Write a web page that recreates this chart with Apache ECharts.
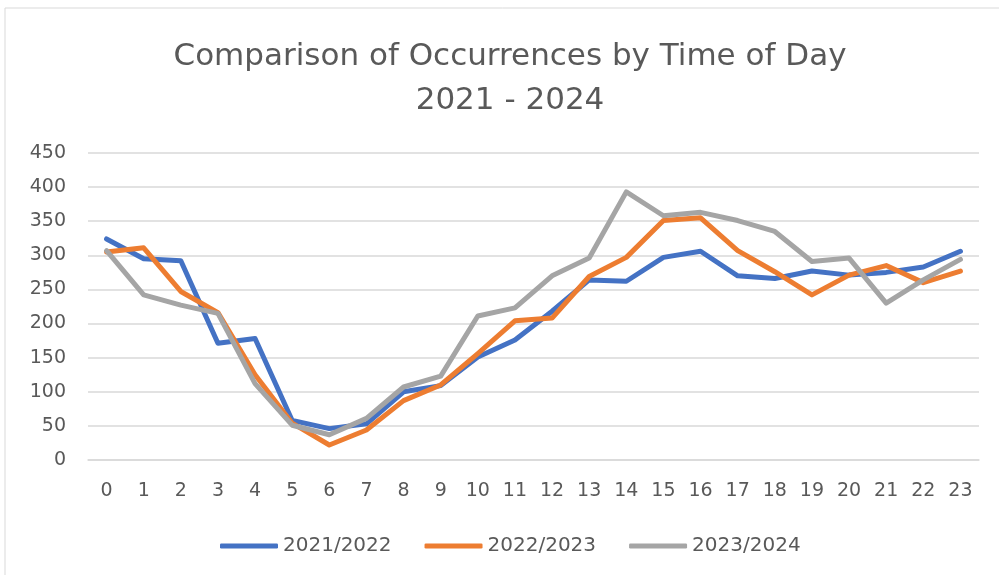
<!DOCTYPE html>
<html>
<head>
<meta charset="utf-8">
<script src="https://cdn.jsdelivr.net/npm/echarts@6/dist/echarts.min.js"></script>
<style>html,body{margin:0;padding:0;background:#fff;}#c{width:999px;height:575px;}</style>
</head>
<body>
<div id="c"></div>
<script>
const hours = ['0','1','2','3','4','5','6','7','8','9','10','11','12','13','14','15','16','17','18','19','20','21','22','23'];
const s2122 = [324,295,292,171,178,58,46,53,100,109,151,176,218,264,262,297,306,270,266,277,271,275,283,306];
const s2223 = [305,311,247,216,125,54,22,44,87,110,156,204,208,269,297,351,355,307,276,242,271,285,260,277];
const s2324 = [307,242,227,215,112,51,37,61,107,123,211,223,270,296,393,358,363,351,335,291,296,230,264,294];
const seriesNames = ['2021/2022','2022/2023','2023/2024'];
const yTicks = {min:0, max:450, interval:50};

const labelColor = '#595959';
const font = 'DejaVu Sans';
const chart = echarts.init(document.getElementById('c'));
function mk(name, data, color){
  return {name, type:'line', data, symbol:'none', smooth:false,
    lineStyle:{width:5, color, cap:'round', join:'round'}, itemStyle:{color}};
}
chart.setOption({
  animation:false,
  backgroundColor:'#fff',
  graphic:[{type:'rect', shape:{x:5, y:8, width:1100, height:700}, style:{fill:'none', stroke:'#D9D9D9', lineWidth:1}, silent:true}],
  title:{text:'Comparison of Occurrences by Time of Day\n2021 - 2024', left:505, textAlign:'center', top:30,
    textStyle:{fontFamily:font, fontSize:31, fontWeight:'normal', color:labelColor, lineHeight:44}},
  legend:{bottom:14, left:215, icon:'roundRect', itemWidth:58, itemHeight:5, itemGap:33,
    textStyle:{fontFamily:font, fontSize:20, color:labelColor}, data:seriesNames},
  grid:{left:88, right:20, top:153, bottom:115},
  xAxis:{type:'category', data:hours, boundaryGap:true,
    axisLine:{show:true, lineStyle:{color:'#D9D9D9', width:1.5}}, axisTick:{show:false},
    axisLabel:{fontFamily:font, fontSize:19, color:labelColor, margin:22}},
  yAxis:{type:'value', min:yTicks.min, max:yTicks.max, interval:yTicks.interval,
    axisLine:{show:false}, axisTick:{show:false},
    splitLine:{lineStyle:{color:'#D9D9D9', width:1.5}},
    axisLabel:{fontFamily:font, fontSize:19, color:labelColor, margin:22}},
  series:[mk(seriesNames[0], s2122, '#4472C4'), mk(seriesNames[1], s2223, '#ED7D31'), mk(seriesNames[2], s2324, '#A5A5A5')]
});
</script>
</body>
</html>
